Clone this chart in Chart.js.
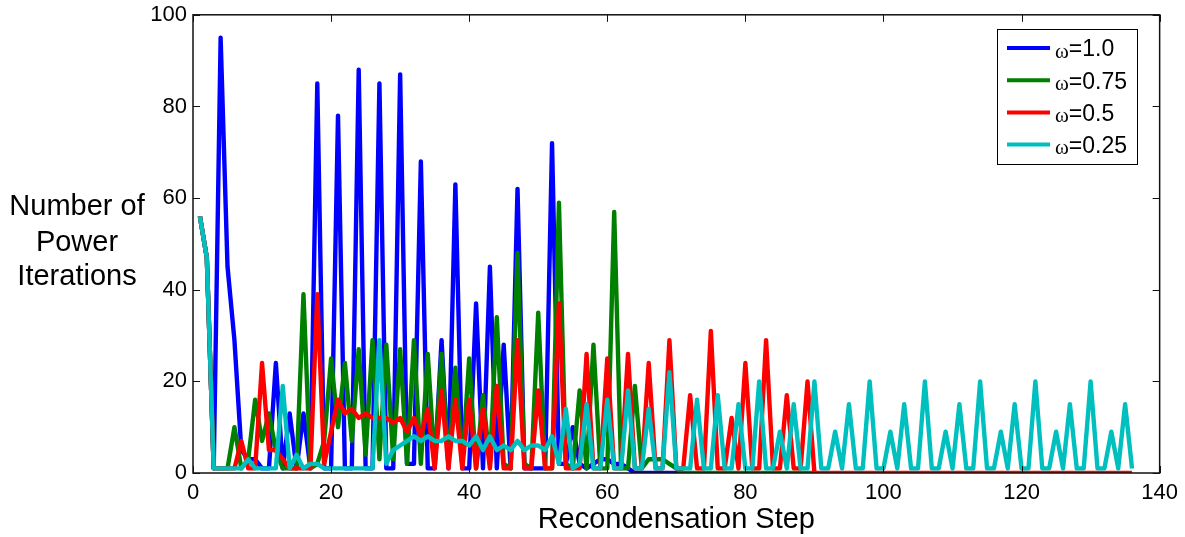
<!DOCTYPE html>
<html>
<head>
<meta charset="utf-8">
<title>Power iterations per recondensation step</title>
<script src="https://cdn.jsdelivr.net/npm/chart.js@4.4.1/dist/chart.umd.min.js"></script>
<style>
  html, body { margin: 0; padding: 0; background: #fff; }
  #chart { display: block; }
</style>
</head>
<body>
<canvas id="chart" width="1185" height="537"></canvas>
<script>
// iterations per step, step index starts at 1
const omega100 = [
    56, 47, 1, 95, 45, 29, 5, 3, 3, 1,
    1, 24, 1, 13, 1, 13, 1, 85, 1, 1,
    78, 1, 1, 88, 1, 1, 85, 1, 1, 87,
    2, 2, 68, 1, 1, 29, 1, 63, 1, 1,
    37, 1, 45, 1, 28, 1, 62, 1, 1, 1,
    1, 72, 2, 2, 10, 2, 1, 2, 3, 3,
    2, 2, 1, 0, 0, 0, 0, 0, 0, 0,
    0
];
const omega075 = [
    56, 47, 1, 1, 1, 10, 1, 3, 16, 7,
    13, 5, 1, 1, 1, 39, 1, 2, 7, 25,
    10, 24, 7, 27, 4, 29, 3, 28, 3, 27,
    2, 29, 2, 26, 2, 26, 2, 23, 2, 25,
    1, 17, 2, 34, 2, 1, 48, 2, 1, 35,
    1, 1, 59, 2, 1, 18, 1, 28, 1, 1,
    57, 1, 1, 19, 1, 3, 3, 3, 2, 1,
    0, 0, 0, 0, 0, 0, 0, 0, 0, 0,
    0, 0, 0, 0, 0, 0, 0, 0, 0, 0
];
const omega050 = [
    56, 47, 1, 1, 1, 1, 7, 1, 1, 24,
    5, 5, 3, 1, 1, 1, 1, 39, 2, 9,
    16, 13, 14, 12, 13, 12, 12, 12, 11, 12,
    9, 12, 8, 14, 1, 18, 1, 16, 1, 16,
    1, 14, 1, 19, 1, 1, 29, 1, 1, 18,
    1, 1, 37, 1, 1, 1, 26, 1, 1, 25,
    1, 1, 26, 1, 1, 24, 1, 1, 29, 1,
    1, 17, 1, 1, 31, 1, 1, 12, 1, 24,
    1, 1, 29, 1, 1, 17, 1, 1, 20, 0,
    0, 0, 0, 0, 0, 0, 0, 0, 0, 0,
    0, 0, 0, 0, 0, 0, 0, 0, 0, 0,
    0, 0, 0, 0, 0, 0, 0, 0, 0, 0,
    0, 0, 0, 0, 0, 0, 0, 0, 0, 0,
    0, 0, 0, 0, 0, 0
];
const omega025 = [
    56, 47, 1, 1, 1, 1, 1, 3, 1, 1,
    1, 1, 19, 1, 4, 1, 2, 2, 1, 1,
    1, 1, 1, 1, 1, 1, 29, 2, 5, 6,
    7, 8, 7, 8, 7, 7, 8, 7, 7, 6,
    8, 5, 8, 5, 6, 5, 7, 5, 6, 6,
    5, 8, 2, 14, 1, 2, 15, 1, 1, 16,
    1, 1, 18, 1, 1, 14, 1, 1, 22, 1,
    1, 1, 16, 1, 1, 17, 1, 1, 15, 1,
    1, 20, 1, 1, 9, 1, 15, 1, 1, 20,
    1, 1, 9, 1, 15, 1, 1, 20, 1, 1,
    9, 1, 15, 1, 1, 20, 1, 1, 9, 1,
    15, 1, 1, 20, 1, 1, 9, 1, 15, 1,
    1, 20, 1, 1, 9, 1, 15, 1, 1, 20,
    1, 1, 9, 1, 15, 1
];

const seriesNames = ['ω=1.0', 'ω=0.75', 'ω=0.5', 'ω=0.25'];
const seriesColors = ['#0000ff', '#008000', '#ff0000', '#00bfbf'];
const xTicks = [0, 20, 40, 60, 80, 100, 120, 140];
const yTicks = [0, 20, 40, 60, 80, 100];
const yTitleLines = ['Number of', 'Power', 'Iterations'];
const xTitle = 'Recondensation Step';

const SANS = "'Liberation Sans', Arial, sans-serif";

function toPoints(values) {
    return values.map((v, i) => ({ x: i + 1, y: v }));
}

// MATLAB-style frame: box with inward ticks on all four sides, plus the legend
const framePlugin = {
    id: 'frame',
    afterDatasetsDraw(chart) {
        const { ctx, chartArea: a, scales } = chart;
        const tl = 7;
        ctx.save();
        ctx.strokeStyle = '#111';
        ctx.lineWidth = 1.5;
        ctx.strokeRect(a.left, a.top, a.right - a.left, a.bottom - a.top);
        ctx.lineWidth = 1;
        ctx.beginPath();
        xTicks.forEach(t => {
            const px = Math.round(scales.x.getPixelForValue(t)) + 0.5;
            ctx.moveTo(px, a.bottom); ctx.lineTo(px, a.bottom - tl);
            ctx.moveTo(px, a.top); ctx.lineTo(px, a.top + tl);
        });
        yTicks.forEach(t => {
            const py = Math.round(scales.y.getPixelForValue(t)) + 0.5;
            ctx.moveTo(a.left, py); ctx.lineTo(a.left + tl, py);
            ctx.moveTo(a.right, py); ctx.lineTo(a.right - tl, py);
        });
        ctx.stroke();

        // legend box, top right
        const lx = 997, ly = 29, lw = 140, lh = 135;
        ctx.fillStyle = '#fff';
        ctx.fillRect(lx, ly, lw, lh);
        ctx.strokeStyle = '#000';
        ctx.lineWidth = 1;
        ctx.strokeRect(lx + 0.5, ly + 0.5, lw, lh);
        chart.data.datasets.forEach((ds, i) => {
            const y = ly + 19 + i * 32.2;
            ctx.strokeStyle = ds.borderColor;
            ctx.lineWidth = 4;
            ctx.beginPath();
            ctx.moveTo(lx + 10, y);
            ctx.lineTo(lx + 53, y);
            ctx.stroke();
            ctx.fillStyle = '#000';
            ctx.textBaseline = 'middle';
            ctx.textAlign = 'left';
            ctx.font = "21px 'Liberation Serif', 'Times New Roman', serif";
            const omega = ds.label.charAt(0);
            ctx.fillText(omega, lx + 58, y + 4);
            const ow = ctx.measureText(omega).width;
            ctx.font = '23px ' + SANS;
            ctx.fillText(ds.label.slice(1), lx + 58 + ow, y + 2);
        });
        ctx.restore();
    },
    afterDraw(chart) {
        const { ctx } = chart;
        ctx.save();
        ctx.fillStyle = '#000';
        ctx.font = '29px ' + SANS;
        ctx.textAlign = 'center';
        ctx.textBaseline = 'alphabetic';
        const baselines = [215, 251, 285];
        yTitleLines.forEach((line, i) => ctx.fillText(line, 77, baselines[i]));
        ctx.restore();
    }
};

const allSeries = [omega100, omega075, omega050, omega025];

new Chart(document.getElementById('chart'), {
    type: 'line',
    data: {
        datasets: allSeries.map((values, i) => ({
            label: seriesNames[i],
            data: toPoints(values),
            borderColor: seriesColors[i],
            backgroundColor: seriesColors[i],
            borderWidth: 4.4,
            pointRadius: 0,
            tension: 0,
            fill: false,
            borderJoinStyle: 'round',
            borderCapStyle: 'butt',
            clip: 0,
            order: allSeries.length - i   // later series drawn on top
        }))
    },
    options: {
        responsive: false,
        animation: false,
        devicePixelRatio: 1,
        layout: { padding: { left: 0, right: 25, top: 13, bottom: 0 } },
        plugins: {
            legend: { display: false },
            tooltip: { enabled: false }
        },
        scales: {
            x: {
                type: 'linear',
                min: 0,
                max: 140,
                afterFit: s => { s.height = 64; },
                afterBuildTicks: s => { s.ticks = xTicks.map(v => ({ value: v })); },
                grid: { display: false, drawTicks: false },
                border: { display: false },
                ticks: {
                    padding: 7,
                    color: '#000',
                    font: { family: SANS, size: 22 },
                    maxRotation: 0
                },
                title: {
                    display: true,
                    text: xTitle,
                    color: '#000',
                    font: { family: SANS, size: 29 },
                    padding: { top: 0, bottom: 0 }
                }
            },
            y: {
                min: 0,
                max: 100,
                afterFit: s => { s.width = 193; },
                afterBuildTicks: s => { s.ticks = yTicks.map(v => ({ value: v })); },
                grid: { display: false, drawTicks: false },
                border: { display: false },
                ticks: {
                    padding: 6,
                    color: '#000',
                    font: { family: SANS, size: 22, lineHeight: 0.8 }
                }
            }
        }
    },
    plugins: [framePlugin]
});
</script>
</body>
</html>
